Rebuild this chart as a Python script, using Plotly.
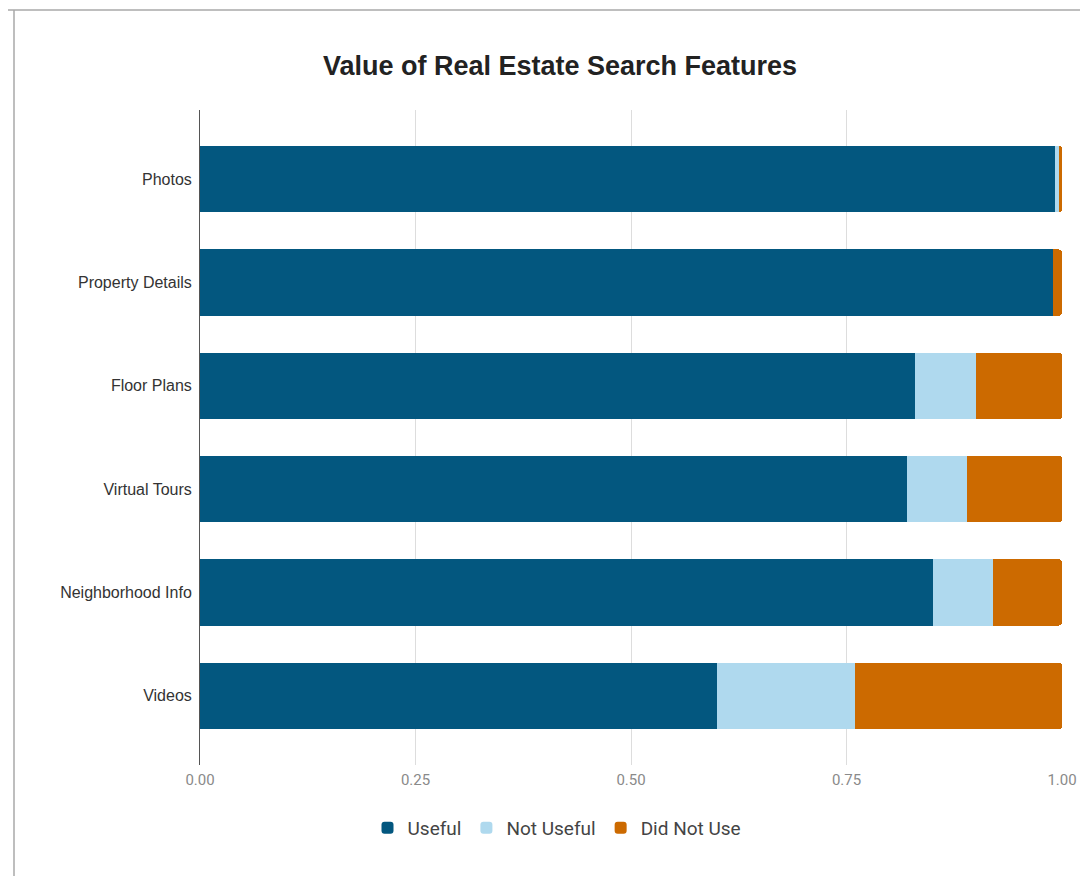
import plotly.graph_objects as go

categories = ["Photos", "Property Details", "Floor Plans", "Virtual Tours", "Neighborhood Info", "Videos"]
useful = [0.992, 0.990, 0.83, 0.82, 0.85, 0.60]
not_useful = [0.004, 0.0, 0.07, 0.07, 0.07, 0.16]
did_not_use = [0.004, 0.010, 0.10, 0.11, 0.08, 0.24]
series_names = ["Useful", "Not Useful", "Did Not Use"]
series_colors = ["#03577F", "#AFD9EE", "#CC6A00"]
x_ticks = [0, 0.25, 0.5, 0.75, 1.0]
x_tick_labels = ["0.00", "0.25", "0.50", "0.75", "1.00"]

OFF = 8  # page offset of the figure in the browser
W, H = 1088 - OFF, 876 - OFF
# reference plot area: x 200..1062, y 110..765 (page pixels)
L, T = 200 - OFF, 110 - OFF
R = W - (1062 - OFF)
B = H - (765 - OFF)
pw = W - L - R
ph = H - T - B

fig = go.Figure()
for name, vals, col in zip(series_names, [useful, not_useful, did_not_use], series_colors):
    fig.add_trace(go.Bar(
        y=categories, x=vals, name=name, orientation="h",
        marker=dict(color=col, line=dict(width=0)),
    ))

def px_to_paper_x(px):
    return (px - OFF - L) / pw

def py_to_paper_y(py):
    return (H - B - (py - OFF)) / ph

border_col = "#A8A8A8"
fig.add_shape(type="line", xref="paper", yref="paper",
              x0=px_to_paper_x(7), x1=px_to_paper_x(1095),
              y0=py_to_paper_y(10), y1=py_to_paper_y(10),
              line=dict(color=border_col, width=1.5))
fig.add_shape(type="line", xref="paper", yref="paper",
              x0=px_to_paper_x(14), x1=px_to_paper_x(14),
              y0=py_to_paper_y(10), y1=py_to_paper_y(885),
              line=dict(color=border_col, width=1.5))

fig.update_layout(
    width=W, height=H,
    margin=dict(l=L, r=R, t=T, b=B, pad=0),
    barmode="stack",
    bargap=0.36,
    barcornerradius=3,
    plot_bgcolor="white",
    paper_bgcolor="white",
    font=dict(family="Liberation Sans, Arial, sans-serif"),
    title=dict(
        text="<b>Value of Real Estate Search Features</b>",
        x=px_to_paper_x(560), xref="paper", xanchor="center",
        y=1 - (66 - OFF) / H, yref="container", yanchor="middle",
        font=dict(size=27, color="#222222", family="Liberation Sans, Arial, sans-serif"),
    ),
    xaxis=dict(
        range=[0, 1.0],
        tickvals=x_ticks, ticktext=x_tick_labels,
        showgrid=True, gridcolor="#DDDDDD", gridwidth=1,
        zeroline=False, showline=False,
        tickfont=dict(size=15, color="#8A8A8A", family="Roboto, Liberation Sans, sans-serif"),
        ticks="", ticklabelstandoff=4,
        fixedrange=True,
    ),
    yaxis=dict(
        categoryorder="array", categoryarray=categories,
        range=[len(categories) - 1 + 0.67, -0.67],
        showgrid=False, zeroline=False,
        showline=True, linecolor="#555555", linewidth=1,
        tickfont=dict(size=16, color="#333333"),
        ticks="", ticklabelstandoff=4,
    ),
    legend=dict(
        orientation="h", x=px_to_paper_x(557), xanchor="center",
        y=py_to_paper_y(828), yanchor="middle",
        font=dict(size=19, color="#444444", family="Roboto, Liberation Sans, sans-serif"),
        traceorder="normal", itemwidth=30,
    ),
    showlegend=True,
)

fig.write_html("out.html")
